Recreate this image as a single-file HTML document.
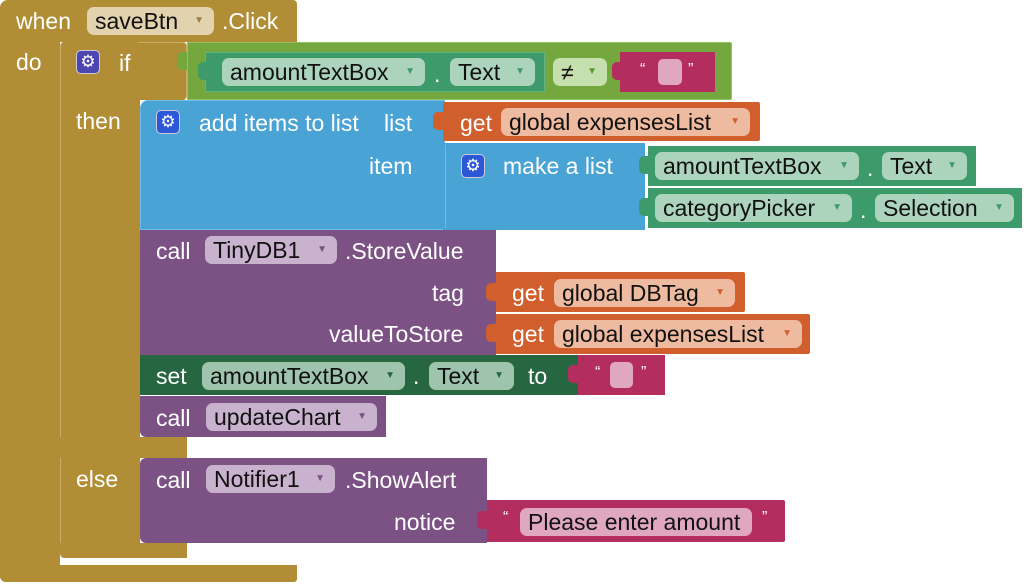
<!DOCTYPE html>
<html><head><meta charset="utf-8"><style>
body{margin:0;width:1024px;height:584px;background:#fff;position:relative;overflow:hidden;font-family:"Liberation Sans",sans-serif}
.b{position:absolute;box-sizing:border-box;border-radius:4px}
.t{position:absolute;font-size:23px;line-height:24px;color:#fff;white-space:nowrap}
.p{position:absolute;height:28px;border-radius:7px;font-size:23px;line-height:28px;color:#111;padding-left:8px;box-sizing:border-box;white-space:nowrap}
.p i{position:absolute;right:10px;top:0;font-style:normal;font-size:10px}
.g{position:absolute;width:24px;height:24px;border-radius:5px;box-sizing:border-box;border:1px solid #ccd;color:#fff;font-size:17px;line-height:22px;text-align:center}
.n{position:absolute;width:10px;height:18px;border-radius:5px 0 0 5px}
</style></head><body>
<div class="b" style="left:0;top:0;width:297px;height:42px;background:#b18e35;border-radius:8px 4px 0 0"></div>
<div class="b" style="left:0;top:0;width:60px;height:582px;background:#b18e35;border-radius:8px 0 0 6px"></div>
<div class="b" style="left:0;top:565px;width:297px;height:17px;background:#b18e35;border-radius:0 0 3px 6px"></div>
<span class="t" style="left:16px;top:9px">when</span>
<div class="p" style="left:87px;top:7px;width:127px;background:#e2d3ae">saveBtn<i style="color:#9a7f40">▼</i></div>
<span class="t" style="left:222px;top:9px">.Click</span>
<span class="t" style="left:16px;top:50px">do</span>
<div class="b" style="left:60px;top:42px;width:127px;height:58px;background:#b18e35;border:1px solid #c9ad66;border-bottom:none"></div>
<div class="b" style="left:60px;top:42px;width:80px;height:516px;background:#b18e35;border-left:1px solid #c9ad66"></div>
<div class="b" style="left:60px;top:437px;width:127px;height:21px;background:#b18e35;border-radius:0"></div>
<div class="b" style="left:60px;top:543px;width:127px;height:15px;background:#b18e35;border-radius:0 0 0 6px"></div>
<div class="g" style="left:76px;top:50px;background:#4c46b0">⚙</div>
<span class="t" style="left:119px;top:51px">if</span>
<span class="t" style="left:76px;top:109px">then</span>
<span class="t" style="left:76px;top:467px">else</span>
<div class="b" style="left:187px;top:42px;width:545px;height:58px;background:#74a83e;border:1px solid #93c263;border-radius:0 2px 2px 0"></div>
<div class="n" style="left:177px;top:52px;background:#74a83e"></div>
<div class="b" style="left:205px;top:52px;width:340px;height:40px;background:#3d9a6a;border:1px solid #5cb487;border-radius:0"></div>
<div class="n" style="left:198px;top:62px;background:#3d9a6a"></div>
<div class="p" style="left:222px;top:58px;width:203px;background:#acd4bd">amountTextBox<i style="color:#3d9a6a">▼</i></div>
<span class="t" style="left:434px;top:62px">.</span>
<div class="p" style="left:450px;top:58px;width:85px;background:#acd4bd">Text<i style="color:#3d9a6a">▼</i></div>
<div class="p" style="left:553px;top:58px;width:54px;background:#c6dfae">≠<i style="color:#5a9a2a">▼</i></div>
<div class="b" style="left:620px;top:52px;width:95px;height:40px;background:#b32d5e;border-radius:0"></div>
<div class="n" style="left:612px;top:62px;background:#b32d5e"></div>
<span class="t" style="left:640px;top:58px;font-size:16px">“</span>
<div class="b" style="left:658px;top:59px;width:24px;height:26px;background:#e0a8c0;border-radius:5px"></div>
<span class="t" style="left:688px;top:58px;font-size:16px">”</span>
<div class="b" style="left:140px;top:100px;width:305px;height:130px;background:#4aa3d5;border:1px solid #6fbce6;border-radius:8px 0 0 0"></div>
<div class="b" style="left:443px;top:143px;width:202px;height:87px;background:#4aa3d5;border-radius:0"></div>
<div class="g" style="left:156px;top:110px;background:#2c58d8">⚙</div>
<span class="t" style="left:199px;top:111px">add items to list</span>
<span class="t" style="left:384px;top:111px">list</span>
<span class="t" style="left:369px;top:154px">item</span>
<div class="b" style="left:443px;top:102px;width:317px;height:39px;background:#d05f2d;border-radius:0 2px 2px 0"></div>
<div class="n" style="left:433px;top:112px;background:#d05f2d"></div>
<span class="t" style="left:460px;top:111px">get</span>
<div class="p" style="left:501px;top:108px;width:249px;background:#efbba0">global expensesList<i style="color:#d05f2d">▼</i></div>
<div class="b" style="left:445px;top:145px;width:200px;height:83px;background:#4aa3d5;border-left:1px solid #6fbce6;border-radius:0"></div>
<div class="g" style="left:461px;top:154px;background:#2c58d8">⚙</div>
<span class="t" style="left:503px;top:154px">make a list</span>
<div class="b" style="left:648px;top:146px;width:328px;height:40px;background:#3d9a6a;border-radius:0"></div>
<div class="n" style="left:639px;top:156px;background:#3d9a6a"></div>
<div class="p" style="left:655px;top:152px;width:204px;background:#acd4bd">amountTextBox<i style="color:#3d9a6a">▼</i></div>
<span class="t" style="left:867px;top:156px">.</span>
<div class="p" style="left:882px;top:152px;width:85px;background:#acd4bd">Text<i style="color:#3d9a6a">▼</i></div>
<div class="b" style="left:648px;top:188px;width:374px;height:40px;background:#3d9a6a;border-radius:0"></div>
<div class="n" style="left:639px;top:198px;background:#3d9a6a"></div>
<div class="p" style="left:655px;top:194px;width:197px;background:#acd4bd">categoryPicker<i style="color:#3d9a6a">▼</i></div>
<span class="t" style="left:860px;top:198px">.</span>
<div class="p" style="left:875px;top:194px;width:139px;background:#acd4bd">Selection<i style="color:#3d9a6a">▼</i></div>
<div class="b" style="left:140px;top:230px;width:356px;height:125px;background:#7c5285;border-radius:0"></div>
<span class="t" style="left:156px;top:239px">call</span>
<div class="p" style="left:205px;top:236px;width:132px;background:#c8b2cd">TinyDB1<i style="color:#7c5285">▼</i></div>
<span class="t" style="left:345px;top:239px">.StoreValue</span>
<span class="t" style="left:432px;top:281px">tag</span>
<span class="t" style="left:329px;top:322px">valueToStore</span>
<div class="b" style="left:496px;top:272px;width:249px;height:40px;background:#d05f2d;border-radius:0 2px 2px 0"></div>
<div class="n" style="left:486px;top:283px;background:#d05f2d"></div>
<span class="t" style="left:512px;top:281px">get</span>
<div class="p" style="left:554px;top:279px;width:181px;background:#efbba0">global DBTag<i style="color:#d05f2d">▼</i></div>
<div class="b" style="left:496px;top:314px;width:314px;height:40px;background:#d05f2d;border-radius:0 2px 2px 0"></div>
<div class="n" style="left:486px;top:324px;background:#d05f2d"></div>
<span class="t" style="left:512px;top:322px">get</span>
<div class="p" style="left:554px;top:320px;width:248px;background:#efbba0">global expensesList<i style="color:#d05f2d">▼</i></div>
<div class="b" style="left:140px;top:355px;width:438px;height:40px;background:#266640;border-radius:0"></div>
<span class="t" style="left:156px;top:364px">set</span>
<div class="p" style="left:202px;top:362px;width:203px;background:#9ec4ae">amountTextBox<i style="color:#266640">▼</i></div>
<span class="t" style="left:413px;top:364px">.</span>
<div class="p" style="left:429px;top:362px;width:85px;background:#9ec4ae">Text<i style="color:#266640">▼</i></div>
<span class="t" style="left:528px;top:364px">to</span>
<div class="b" style="left:578px;top:355px;width:87px;height:40px;background:#b32d5e;border-radius:0"></div>
<div class="n" style="left:568px;top:365px;background:#b32d5e"></div>
<span class="t" style="left:595px;top:361px;font-size:16px">“</span>
<div class="b" style="left:610px;top:362px;width:23px;height:26px;background:#e0a8c0;border-radius:5px"></div>
<span class="t" style="left:641px;top:361px;font-size:16px">”</span>
<div class="b" style="left:140px;top:396px;width:246px;height:41px;background:#7c5285;border-radius:0 0 0 6px"></div>
<span class="t" style="left:156px;top:406px">call</span>
<div class="p" style="left:206px;top:403px;width:171px;background:#c8b2cd">updateChart<i style="color:#7c5285">▼</i></div>
<div class="b" style="left:140px;top:458px;width:347px;height:85px;background:#7c5285;border-radius:6px 0 0 6px"></div>
<span class="t" style="left:156px;top:468px">call</span>
<div class="p" style="left:206px;top:465px;width:129px;background:#c8b2cd">Notifier1<i style="color:#7c5285">▼</i></div>
<span class="t" style="left:345px;top:468px">.ShowAlert</span>
<span class="t" style="left:394px;top:510px">notice</span>
<div class="b" style="left:487px;top:500px;width:298px;height:42px;background:#b32d5e;border-radius:0 2px 2px 0"></div>
<div class="n" style="left:477px;top:511px;background:#b32d5e"></div>
<span class="t" style="left:503px;top:506px;font-size:16px">“</span>
<div class="p" style="left:520px;top:508px;width:232px;background:#e0a8c0;padding-left:8px">Please enter amount</div>
<span class="t" style="left:762px;top:506px;font-size:16px">”</span>
</body></html>
